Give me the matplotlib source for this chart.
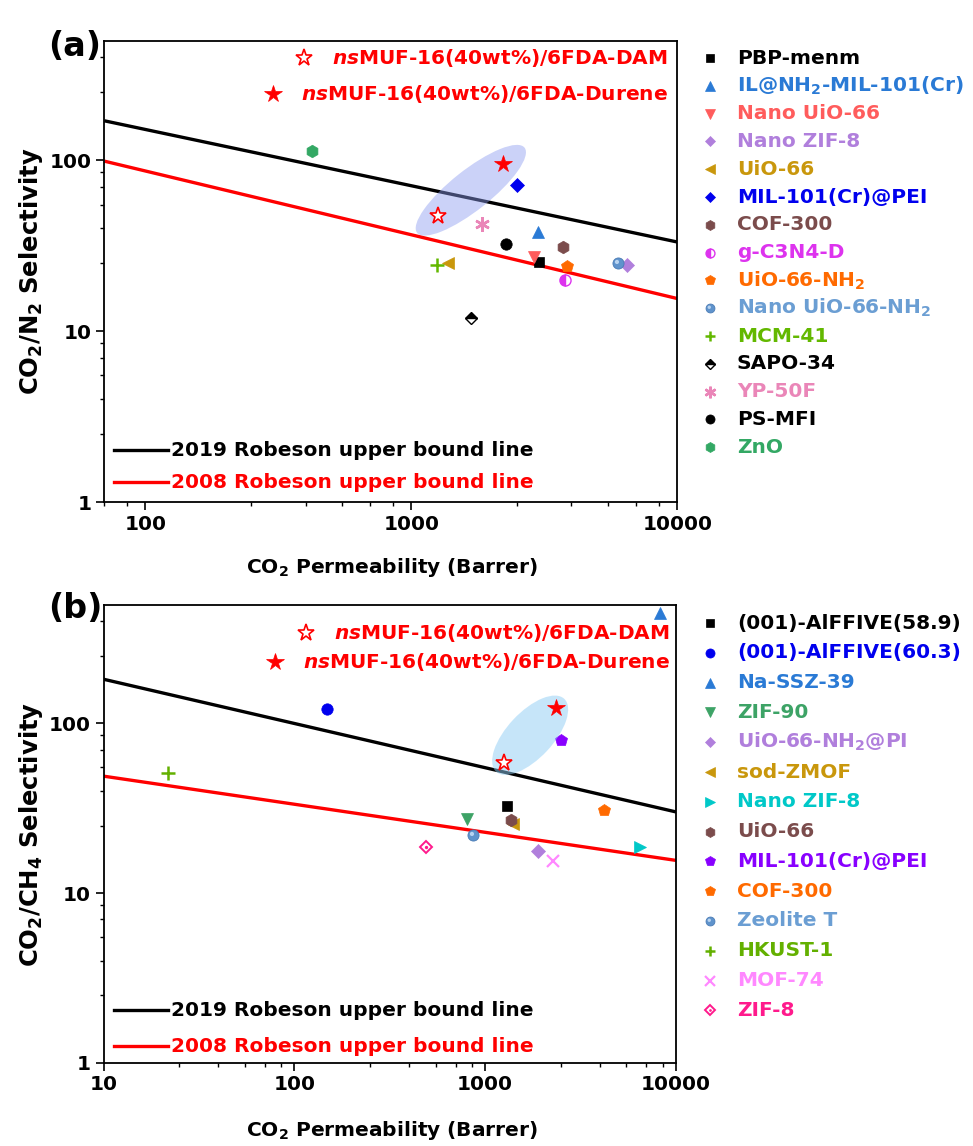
import numpy as np
import matplotlib
matplotlib.use("Agg")
import matplotlib.pyplot as plt
from matplotlib.lines import Line2D
from matplotlib.patches import Ellipse
from matplotlib.path import Path
from matplotlib.transforms import IdentityTransform
from matplotlib.ticker import FixedLocator, FixedFormatter, NullFormatter

W, H, DPI = 973, 1146, 100
FS = 14.5
FS_YLABEL = 17.5

plt.rcParams.update({
    "font.family": ["DejaVu Sans"],
    "font.weight": "bold",
    "font.size": FS,
    "axes.labelweight": "bold",
    "mathtext.fontset": "custom",
    "mathtext.rm": "DejaVu Sans:bold",
    "mathtext.bf": "DejaVu Sans:bold",
    "mathtext.it": "DejaVu Sans:bold:italic",
    "mathtext.sf": "DejaVu Sans:bold",
    "mathtext.default": "rm",
})

# ---------------- CO2/N2 data ----------------
n2_labels = ["PBP-menm", "IL@NH$_2$-MIL-101(Cr)", "Nano UiO-66", "Nano ZIF-8",
             "UiO-66", "MIL-101(Cr)@PEI", "COF-300", "g-C3N4-D",
             "UiO-66-NH$_2$", "Nano UiO-66-NH$_2$", "MCM-41", "SAPO-34",
             "YP-50F", "PS-MFI", "ZnO"]
n2_perm = [3030, 3000, 2880, 6460, 1370, 2500, 3720, 3790, 3840, 6000,
           1245, 1675, 1850, 2270, 423]
n2_sel = [25.4, 37.8, 27.2, 24.5, 24.9, 72.0, 31.1, 19.9, 24.1, 25.1,
          24.5, 12.0, 42.1, 32.3, 113.0]

# ---------------- CO2/CH4 data ----------------
ch4_labels = ["(001)-AlFFIVE(58.9)", "(001)-AlFFIVE(60.3)", "Na-SSZ-39", "ZIF-90",
              "UiO-66-NH$_2$@PI", "sod-ZMOF", "Nano ZIF-8", "UiO-66",
              "MIL-101(Cr)@PEI", "COF-300", "Zeolite T", "HKUST-1", "MOF-74", "ZIF-8"]
ch4_perm = [1294, 149, 8240, 804, 1888, 1399, 6472, 1368, 2500, 4207,
            861, 21.8, 2265, 489]
ch4_sel = [32.5, 122, 446, 27.4, 17.7, 25.4, 18.7, 26.9, 79.6, 30.8,
           22.1, 50.7, 15.4, 18.6]

# ---------------- this work ----------------
ns_labels = [r"$\mathit{ns}$MUF-16(40wt%)/6FDA-DAM",
             r"$\mathit{ns}$MUF-16(40wt%)/6FDA-Durene"]
ns_perm_n2 = [1262, 2218]
ns_sel_n2 = [47.1, 94.4]
ns_perm_ch4 = [1260, 2350]
ns_sel_ch4 = [58.6, 123.8]

# ---------------- Robeson upper bounds ----------------
rob_labels = ["2019 Robeson upper bound line", "2008 Robeson upper bound line"]
n2_rob_perm = [70, 10000]
n2_rob2019_sel = [170, 33.2]
n2_rob2008_sel = [98.7, 15.5]
ch4_rob_perm = [10, 10000]
ch4_rob2019_sel = [182, 30.1]
ch4_rob2008_sel = [48.9, 15.6]

# ---------------- axes ticks ----------------
n2_xticks = [100, 1000, 10000]
n2_xticklabels = ["100", "1000", "10000"]
ch4_xticks = [10, 100, 1000, 10000]
ch4_xticklabels = ["10", "100", "1000", "10000"]
yticks = [1, 10, 100]
yticklabels = ["1", "10", "100"]

# ---------------- styles ----------------
n2_styles = [("square", "black"), ("tri_up", "#2a7ad5"), ("tri_down", "#ff5c5c"),
             ("diamond", "#b07fdc"), ("tri_left", "#c9970c"), ("diamond", "#0000ee"),
             ("hexagon", "#7b4c4c"), ("half_circle", "#dd33ee"), ("pentagon", "#ff6a00"),
             ("sphere", "#5f93cc"), ("plus", "#63b800"), ("half_diamond", "black"),
             ("asterisk", "#ea86b8"), ("circle", "black"), ("hexagon", "#33a864")]
n2_text_colors = ["black", "#2a7ad5", "#ff5c5c", "#b07fdc", "#c9970c", "#0000ee",
                  "#7b4c4c", "#dd33ee", "#ff6a00", "#6b9ed3", "#63b800", "black",
                  "#ea86b8", "black", "#33a864"]
ch4_styles = [("square", "black"), ("circle", "#0000ee"), ("tri_up", "#2a7ad5"),
              ("tri_down", "#3da366"), ("diamond", "#b07fdc"), ("tri_left", "#c9970c"),
              ("tri_right", "#00c8c8"), ("hexagon", "#7b4c4c"), ("pentagon", "#8800ff"),
              ("pentagon", "#ff6a00"), ("sphere", "#5f93cc"), ("plus", "#63b000"),
              ("cross", "#ff88ff"), ("dot_diamond", "#ff1a8c")]
ch4_text_colors = ["black", "#0000ee", "#2a7ad5", "#3da366", "#b07fdc", "#c9970c",
                   "#00c8c8", "#7b4c4c", "#8800ff", "#ff6a00", "#6b9ed3", "#63b000",
                   "#ff88ff", "#ff1a8c"]

# highlight spot for the shaded "sphere" marker
SPHERE_HI = Path.make_compound_path(Path([[1.0, 1.0]], [Path.MOVETO]),
                                    Path.circle((-0.28, 0.28), 0.38))


def mark_layers(kind, color, s=1.0):
    if kind == "square":
        return [dict(marker="s", ms=7.4 * s, mfc=color, mec=color, mew=0.5)]
    if kind == "circle":
        return [dict(marker="o", ms=8.2 * s, mfc=color, mec=color, mew=0.5)]
    if kind in ("tri_up", "tri_down", "tri_left", "tri_right"):
        m = {"tri_up": "^", "tri_down": "v", "tri_left": "<", "tri_right": ">"}[kind]
        return [dict(marker=m, ms=9.0 * s, mfc=color, mec=color, mew=0.5)]
    if kind == "diamond":
        return [dict(marker="D", ms=6.7 * s, mfc=color, mec=color, mew=0.5)]
    if kind == "hexagon":
        return [dict(marker="h", ms=9.0 * s, mfc=color, mec=color, mew=0.5)]
    if kind == "pentagon":
        return [dict(marker="p", ms=9.0 * s, mfc=color, mec=color, mew=0.5)]
    if kind == "plus":
        return [dict(marker="+", ms=9.5 * s, mec=color, mew=1.8)]
    if kind == "cross":
        return [dict(marker="x", ms=9.0 * s, mec=color, mew=1.6)]
    if kind == "asterisk":
        return [dict(marker=(6, 2, 0), ms=10.5 * s, mec=color, mew=1.8)]
    if kind == "half_circle":
        return [dict(marker="o", ms=8.0 * s, fillstyle="left", mfc=color,
                     mfcalt="white", mec=color, mew=1.0)]
    if kind == "half_diamond":
        return [dict(marker="D", ms=6.4 * s, fillstyle="top", mfc=color,
                     mfcalt="white", mec=color, mew=1.0)]
    if kind == "sphere":
        return [dict(marker="o", ms=8.0 * s, mfc=color, mec="#4a7bb5", mew=0.6),
                dict(marker=SPHERE_HI, ms=8.0 * s, mfc="#b8d3f0", mec="none", mew=0)]
    if kind == "dot_diamond":
        return [dict(marker="D", ms=6.6 * s, mfc="white", mec=color, mew=1.4),
                dict(marker="o", ms=2.4 * s, mfc=color, mec=color, mew=0)]
    raise ValueError(kind)


STAR_OPEN = dict(marker="*", ms=12.5, mfc="white", mec="red", mew=1.2)
STAR_FULL = dict(marker="*", ms=13, mfc="red", mec="red", mew=0.5)

fig = plt.figure(figsize=(W / DPI, H / DPI), dpi=DPI)


def fx(px):
    return px / W


def fy(py):
    return 1 - py / H


ax_a = fig.add_axes([fx(104.3), fy(502), (677.3 - 104.3) / W, (502 - 40.7) / H])
ax_b = fig.add_axes([fx(103.5), fy(1063), (676.0 - 103.5) / W, (1063 - 604.7) / H])

MINOR_STEPS = [2.5, 4.0, 5.5, 7.0, 8.5]


def minor_ticks(lo, hi):
    out = []
    for d in [1, 10, 100, 1000, 10000]:
        out += [d * m for m in MINOR_STEPS if lo <= d * m <= hi]
    return out


def setup(ax, xlim, xt, xtl):
    ax.set_xscale("log")
    ax.set_yscale("log")
    ax.set_xlim(*xlim)
    ax.set_ylim(1, 500)
    ax.xaxis.set_major_locator(FixedLocator(xt))
    ax.xaxis.set_major_formatter(FixedFormatter(xtl))
    ax.xaxis.set_minor_locator(FixedLocator(minor_ticks(*xlim)))
    ax.xaxis.set_minor_formatter(NullFormatter())
    ax.yaxis.set_major_locator(FixedLocator(yticks))
    ax.yaxis.set_major_formatter(FixedFormatter(yticklabels))
    ax.yaxis.set_minor_locator(FixedLocator(minor_ticks(1, 500)))
    ax.yaxis.set_minor_formatter(NullFormatter())
    ax.tick_params(which="both", direction="out", top=False, right=False)
    ax.tick_params(which="major", length=6, width=1.2, labelsize=FS, pad=3)
    ax.tick_params(which="minor", length=3, width=1.0)
    for sp in ax.spines.values():
        sp.set_linewidth(1.3)


def draw_panel(ax, perm, sel, styles, rob_perm, rob19, rob08, ns_perm, ns_sel):
    ax.plot(rob_perm, rob19, color="black", lw=2.4, zorder=2, solid_capstyle="butt")
    ax.plot(rob_perm, rob08, color="red", lw=2.4, zorder=2, solid_capstyle="butt")
    for p, s, (kind, col) in zip(perm, sel, styles):
        for kw in mark_layers(kind, col):
            ax.plot([p], [s], ls="none", zorder=3, clip_on=False, **kw)
    ax.plot([ns_perm[0]], [ns_sel[0]], ls="none", zorder=5, **STAR_OPEN)
    ax.plot([ns_perm[1]], [ns_sel[1]], ls="none", zorder=5, **STAR_FULL)


setup(ax_a, (70, 10000), n2_xticks, n2_xticklabels)
setup(ax_b, (10, 10000), ch4_xticks, ch4_xticklabels)
draw_panel(ax_a, n2_perm, n2_sel, n2_styles, n2_rob_perm, n2_rob2019_sel,
           n2_rob2008_sel, ns_perm_n2, ns_sel_n2)
draw_panel(ax_b, ch4_perm, ch4_sel, ch4_styles, ch4_rob_perm, ch4_rob2019_sel,
           ch4_rob2008_sel, ns_perm_ch4, ns_sel_ch4)


def highlight(ax, perms, sels, stretch, minor_px, color, alpha):
    pts = ax.transData.transform(np.column_stack([perms, sels]))
    c = pts.mean(axis=0)
    d = pts[1] - pts[0]
    ang = np.degrees(np.arctan2(d[1], d[0]))
    e = Ellipse(c, np.hypot(*d) * stretch, minor_px, angle=ang,
                transform=IdentityTransform(), fc=color, ec="none",
                alpha=alpha, zorder=4)
    ax.add_artist(e)


highlight(ax_a, ns_perm_n2, ns_sel_n2, 1.65, 40, "#8c9cf0", 0.45)
highlight(ax_b, ns_perm_ch4, ns_sel_ch4, 1.32, 46, "#8ecdf5", 0.5)

# panel letters and axis titles
fig.text(fx(48), fy(47), "(a)", fontsize=24, ha="left", va="center")
fig.text(fx(48), fy(608), "(b)", fontsize=24, ha="left", va="center")
fig.text(fx(31), fy(271), "CO$_2$/N$_2$ Selectivity", rotation=90,
         ha="center", va="center", fontsize=FS_YLABEL)
fig.text(fx(31), fy(834), "CO$_2$/CH$_4$ Selectivity", rotation=90,
         ha="center", va="center", fontsize=FS_YLABEL)
fig.text(fx(392), fy(568), "CO$_2$ Permeability (Barrer)", ha="center", va="center")
fig.text(fx(392), fy(1130), "CO$_2$ Permeability (Barrer)", ha="center", va="center")


def fig_mark(px, py, layers):
    for kw in layers:
        fig.add_artist(Line2D([fx(px)], [fy(py)], transform=fig.transFigure,
                              ls="none", **kw))


# side legends
for i, (lab, (kind, col), tc) in enumerate(zip(n2_labels, n2_styles, n2_text_colors)):
    y = 58 + i * 27.8
    fig_mark(710, y, mark_layers(kind, col, 0.8))
    fig.text(fx(737), fy(y), lab, color=tc, ha="left", va="center")
for i, (lab, (kind, col), tc) in enumerate(zip(ch4_labels, ch4_styles, ch4_text_colors)):
    y = 623 + i * 29.8
    fig_mark(710, y, mark_layers(kind, col, 0.8))
    fig.text(fx(737), fy(y), lab, color=tc, ha="left", va="center")

# Robeson line keys
for y0, (c19, c08) in [(450, ("black", "red")), (1010, ("black", "red"))]:
    gap = 32 if y0 < 600 else 36
    for k, (lab, col) in enumerate(zip(rob_labels, (c19, c08))):
        y = y0 + k * gap
        fig.add_artist(Line2D([fx(114), fx(168)], [fy(y), fy(y)],
                              transform=fig.transFigure, color=col, lw=2.4))
        fig.text(fx(171), fy(y), lab, color=col, ha="left", va="center")

# this-work keys, right aligned, star placed just left of each label
fig.canvas.draw()
renderer = fig.canvas.get_renderer()
for y_pair, x_end in [((58, 94), 668), ((633, 662), 670)]:
    for lab, y, star in zip(ns_labels, y_pair, (STAR_OPEN, STAR_FULL)):
        t = fig.text(fx(x_end), fy(y), lab, color="red", ha="right", va="center")
        bb = t.get_window_extent(renderer)
        fig.add_artist(Line2D([(bb.x0 - 28) / W], [fy(y)], transform=fig.transFigure,
                              ls="none", **star))

fig.savefig("out.png", dpi=DPI, facecolor="white")
